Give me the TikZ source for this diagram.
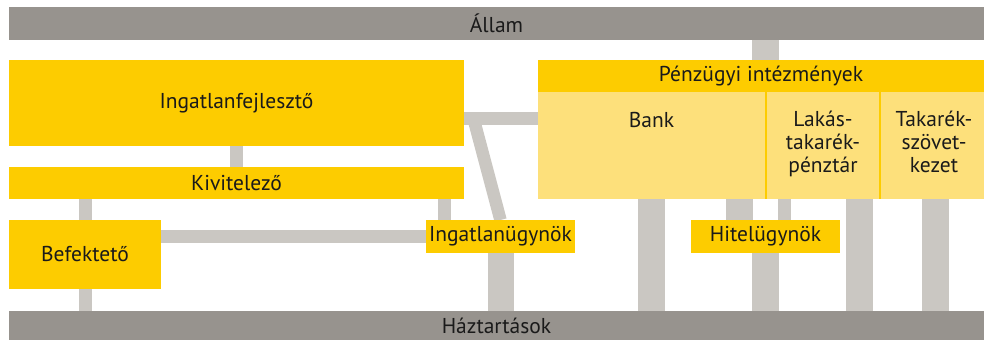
\documentclass[tikz,border=0pt]{standalone}
\usepackage{fontspec}
\setmainfont{PT Sans}
\usetikzlibrary{backgrounds}
\definecolor{bargrey}{HTML}{97938E}
\definecolor{linkgrey}{HTML}{CAC7C2}
\definecolor{gold}{HTML}{FDCC00}
\definecolor{paleGold}{HTML}{FDE07B}
\definecolor{ink}{HTML}{1A1A1A}
\tikzset{
  box/.style={inner sep=0pt, outer sep=0pt, text=ink, font=\fontsize{21.5}{23}\selectfont, align=center},
  goldbox/.style={box, fill=gold},
  palebox/.style={box, fill=paleGold},
  greybar/.style={box, fill=bargrey},
  link/.style={draw=linkgrey, line width=13pt},
  widelink/.style={draw=linkgrey, line width=27pt},
}
\newcommand{\boxat}[6]{% style, name, x0, y0, x1, y1
  \node[#1, minimum width={#5-#3}, minimum height={#6-#4}] (#2) at ({(#3+#5)/2},{(#4+#6)/2})}
\begin{document}
\begin{tikzpicture}[x=1pt, y=-1pt]
\useasboundingbox (0,0) rectangle (984,340);

% state and households
\boxat{greybar}{allam}{9}{7}{984}{40} {Állam};
\boxat{greybar}{haz}{9}{311}{984}{340} {Háztartások};

% real estate side
\boxat{goldbox}{ingf}{9}{60}{464}{146} {Ingatlanfejlesztő};
\boxat{goldbox}{kiv}{9}{167}{464}{199} {Kivitelező};
\boxat{goldbox}{bef}{9}{220}{161}{289} {Befektető};
\boxat{goldbox}{ingu}{426}{220}{575}{253} {Ingatlanügynök};
\boxat{goldbox}{hitel}{691}{220}{840}{253} {Hitelügynök};

% financial institutions
\boxat{goldbox}{penz}{538}{60}{984}{92} {Pénzügyi intézmények};
\fill[gold] (538,92) rectangle (984,199);
\boxat{palebox}{bank}{538}{92}{765}{199} {};
\boxat{palebox}{lakas}{767}{92}{879}{199} {};
\boxat{palebox}{takar}{881}{92}{984}{199} {};
\node[box, anchor=base] (banktxt) at (651.5,127) {Bank};
\node[box, anchor=base] (lakastxt) at (823,172) {Lakás-\\takarék-\\pénztár};
\node[box, anchor=base] (takartxt) at (934,172) {Takarék-\\szövet-\\kezet};

\coordinate (fork) at (473.5,118.5);

\begin{scope}[on background layer]
  \draw[widelink] (hitel.north |- allam.south) -- (hitel.north |- penz.north);
  \draw[link] (ingf.south) -- (kiv.north);
  \draw[link] (bef.north) -- (bef.north |- kiv.south);
  \draw[link] (bef.south) -- (bef.south |- haz.north);
  \draw[link] ([xshift=-56pt]ingu.north) -- ([xshift=-56pt]ingu.north |- kiv.south);
  \draw[link] (ingu.west) -- (ingu.west -| bef.east);
  \draw[link] ([yshift=-15.5pt]ingf.east) -- ([yshift=-15.5pt]ingf.east -| bank.west);
  \draw[draw=linkgrey, line width=12.5pt] (fork) -- (ingu.north);
  \draw[draw=linkgrey, line width=26pt] (ingu.south) -- (ingu.south |- haz.north);
  \draw[widelink] (bank.south) -- (bank.south |- haz.north);
  \draw[widelink] ([xshift=-26pt]hitel.north) -- ([xshift=-26pt]hitel.north |- bank.south);
  \draw[link] ([xshift=19pt]hitel.north) -- ([xshift=19pt]hitel.north |- lakas.south);
  \draw[widelink] (hitel.south) -- (hitel.south |- haz.north);
  \draw[widelink] ([xshift=36.5pt]lakas.south) -- ([xshift=36.5pt]lakas.south |- haz.north);
  \draw[widelink] ([xshift=3pt]takar.south) -- ([xshift=3pt]takar.south |- haz.north);
\end{scope}
\end{tikzpicture}
\end{document}
